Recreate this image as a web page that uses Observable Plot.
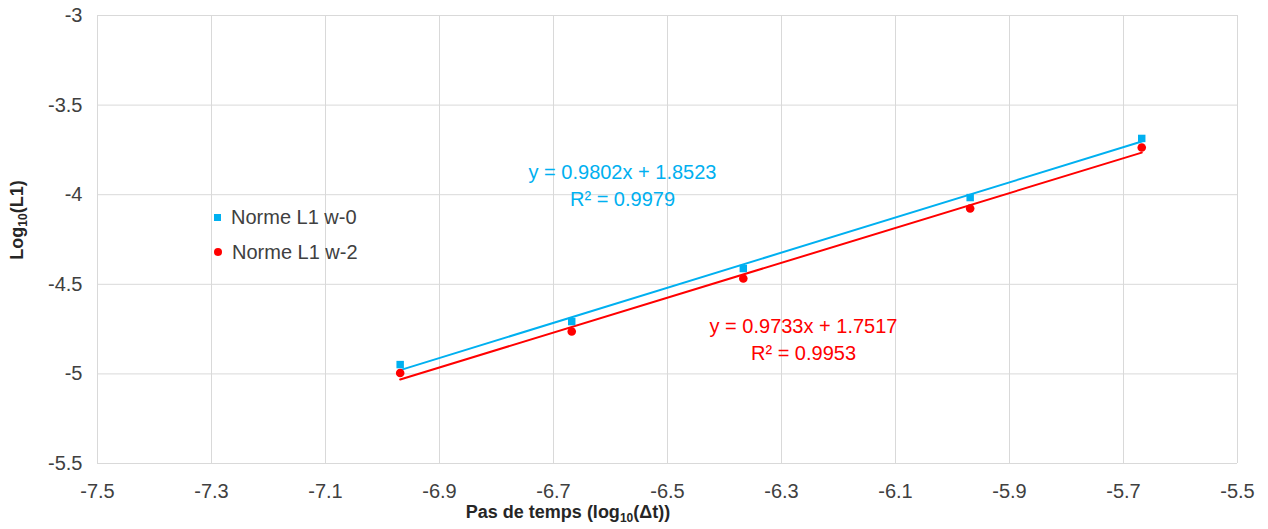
<!DOCTYPE html>
<html><head><meta charset="utf-8">
<script src="https://cdn.jsdelivr.net/npm/d3@7"></script>
<script src="https://cdn.jsdelivr.net/npm/@observablehq/plot@0.6"></script>
<style>
body{margin:0;background:#fff;}
#chart{position:relative;width:1268px;height:529px;font-family:'Liberation Sans',Arial,sans-serif;}
.leg{position:absolute;left:214px;font-size:20px;color:#404040;display:flex;align-items:center;line-height:1;}
.leg .sw{display:inline-block;margin-right:10px;}
</style>
</head><body><div id="chart"></div>
<script>
// ---- data ----
const xValues = [-6.969, -6.668, -6.367, -5.969, -5.668];
const normeW0 = [-4.948, -4.708, -4.412, -4.016, -3.686];
const normeW2 = [-4.995, -4.763, -4.468, -4.077, -3.737];
const seriesNames = ["Norme L1 w-0", "Norme L1 w-2"];
const seriesColors = ["#00b0f0", "#ff0000"];
const slopes = [0.9802, 0.9733];
const intercepts = [1.8523, 1.7517];
const r2Values = [0.9979, 0.9953];
const xTicks = [-7.5, -7.3, -7.1, -6.9, -6.7, -6.5, -6.3, -6.1, -5.9, -5.7, -5.5];
const yTicks = [-5.5, -5, -4.5, -4, -3.5, -3];

const pts = (ys, s) => xValues.map((x, i) => ({x, y: ys[i], s}));
const w0 = pts(normeW0, seriesNames[0]);
const w2 = pts(normeW2, seriesNames[1]);
const xmin = d3.min(xValues), xmax = d3.max(xValues);
const trend = (k) => [xmin, xmax].map(x => ({x, y: slopes[k] * x + intercepts[k]}));
const eqText = (k) => `y = ${slopes[k].toFixed(4)}x + ${intercepts[k].toFixed(4)}`;
const r2Text = (k) => `R² = ${r2Values[k].toFixed(4)}`;

const font = "'Liberation Sans', Arial, sans-serif";
const lbl = {frameAnchor: "top-left", textAnchor: "middle", lineAnchor: "middle", fontSize: 20};
const chart = Plot.plot({
  width: 1268, height: 529,
  marginLeft: 97, marginRight: 31, marginTop: 15, marginBottom: 66,
  style: {fontFamily: font, fontSize: "20px", color: "#404040", background: "#fff", overflow: "visible"},
  x: {domain: [-7.5, -5.5], ticks: xTicks, tickFormat: d => String(d), tickSize: 0, tickPadding: 20, label: null},
  y: {domain: [-5.5, -3], ticks: yTicks, tickFormat: d => String(d), tickSize: 0, tickPadding: 15, label: null},
  marks: [
    Plot.gridX(xTicks, {stroke: "#d9d9d9", strokeOpacity: 1, strokeWidth: 1}),
    Plot.gridY(yTicks, {stroke: "#d9d9d9", strokeOpacity: 1, strokeWidth: 1}),
    Plot.line(trend(0), {x: "x", y: "y", stroke: seriesColors[0], strokeWidth: 2}),
    Plot.line(trend(1), {x: "x", y: "y", stroke: seriesColors[1], strokeWidth: 2}),
    Plot.dot(w0, {x: "x", y: "y", symbol: "square", r: 4.2, fill: seriesColors[0], stroke: null}),
    Plot.dot(w2, {x: "x", y: "y", symbol: "circle", r: 4.3, fill: seriesColors[1], stroke: null}),
    Plot.text([eqText(0)], {...lbl, text: d => d, dx: 525, dy: 157, fill: seriesColors[0]}),
    Plot.text([r2Text(0)], {...lbl, text: d => d, dx: 525, dy: 184, fill: seriesColors[0]}),
    Plot.text([eqText(1)], {...lbl, text: d => d, dx: 706, dy: 311, fill: seriesColors[1]}),
    Plot.text([r2Text(1)], {...lbl, text: d => d, dx: 706, dy: 338, fill: seriesColors[1]})
  ]
});
document.getElementById("chart").appendChild(chart);

const svg = d3.select(chart);
// y axis title
const yt = svg.append("text")
  .attr("transform", "translate(23,220) rotate(-90)")
  .attr("text-anchor", "middle")
  .attr("font-family", font).attr("font-weight", "bold").attr("font-size", 18).attr("fill", "#262626");
yt.append("tspan").text("Log");
yt.append("tspan").attr("font-size", 12).attr("dy", 4).text("10");
yt.append("tspan").attr("dy", -4).text("(L1)");
// x axis title
const xt = svg.append("text")
  .attr("x", 568).attr("y", 518)
  .attr("text-anchor", "middle")
  .attr("font-family", font).attr("font-weight", "bold").attr("font-size", 18).attr("fill", "#262626");
xt.append("tspan").text("Pas de temps (log");
xt.append("tspan").attr("font-size", 12).attr("dy", 4).text("10");
xt.append("tspan").attr("dy", -4).text("(Δt))");

// legend (inside the plot area)
const chartDiv = document.getElementById("chart");
seriesNames.forEach((name, i) => {
  const row = document.createElement("div");
  row.className = "leg";
  row.style.top = (i === 0 ? 207 : 242) + "px";
  const sw = document.createElement("span");
  sw.className = "sw";
  sw.style.width = i === 0 ? "7px" : "8px";
  sw.style.height = i === 0 ? "7px" : "8px";
  sw.style.background = seriesColors[i];
  if (i === 1) sw.style.borderRadius = "50%";
  row.appendChild(sw);
  row.appendChild(document.createTextNode(name));
  chartDiv.appendChild(row);
});
</script>
</body></html>
